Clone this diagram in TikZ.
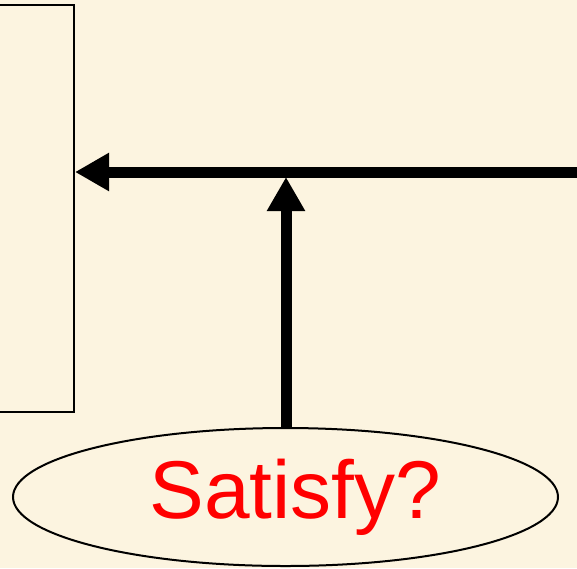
\documentclass[tikz,border=0pt]{standalone}
\usepackage{xcolor}
\usepackage{fontspec}
\setmainfont{Liberation Sans}
\usepackage{tikz}
\usetikzlibrary{shapes.geometric, arrows.meta, positioning}
\definecolor{slidecream}{RGB}{252,244,224}
\definecolor{askred}{RGB}{255,0,0}
\tikzset{
  frameblock/.style={
    rectangle, draw=black, line width=1pt,
    minimum width=52pt, minimum height=203.5pt, inner sep=0pt
  },
  askblock/.style={
    ellipse, draw=black, line width=1pt,
    minimum width=272.5pt, minimum height=69pt, inner sep=0pt
  },
  asktext/.style={text=askred, font=\fontsize{41}{48}\selectfont, xshift=5pt},
  bigarrow/.style={-{Triangle[length=17pt, width=18pt]}, line width=5.5pt, color=black}
}
\begin{document}
\begin{tikzpicture}[x=0.5pt, y=-0.5pt]

  % Background and page size
  \fill[slidecream] (0,0) rectangle (577,568);
  \useasboundingbox (0,0) rectangle (577,568);

  % Box on the left (runs past the page edge)
  \node[frameblock] (box) at (22,208.5) {};

  % Question at the bottom
  \node[askblock, label={[asktext]center:Satisfy?}] (sat) at (285.5,497) {};

  % Free end of the feedback line and the join point
  \coordinate (feed) at (600,172);
  \coordinate (join) at (286,177);

  % Arrows
  \draw[bigarrow] (feed) -- (feed -| box.east);
  \draw[bigarrow] (sat.north -| join) -- (join);

\end{tikzpicture}
\end{document}
